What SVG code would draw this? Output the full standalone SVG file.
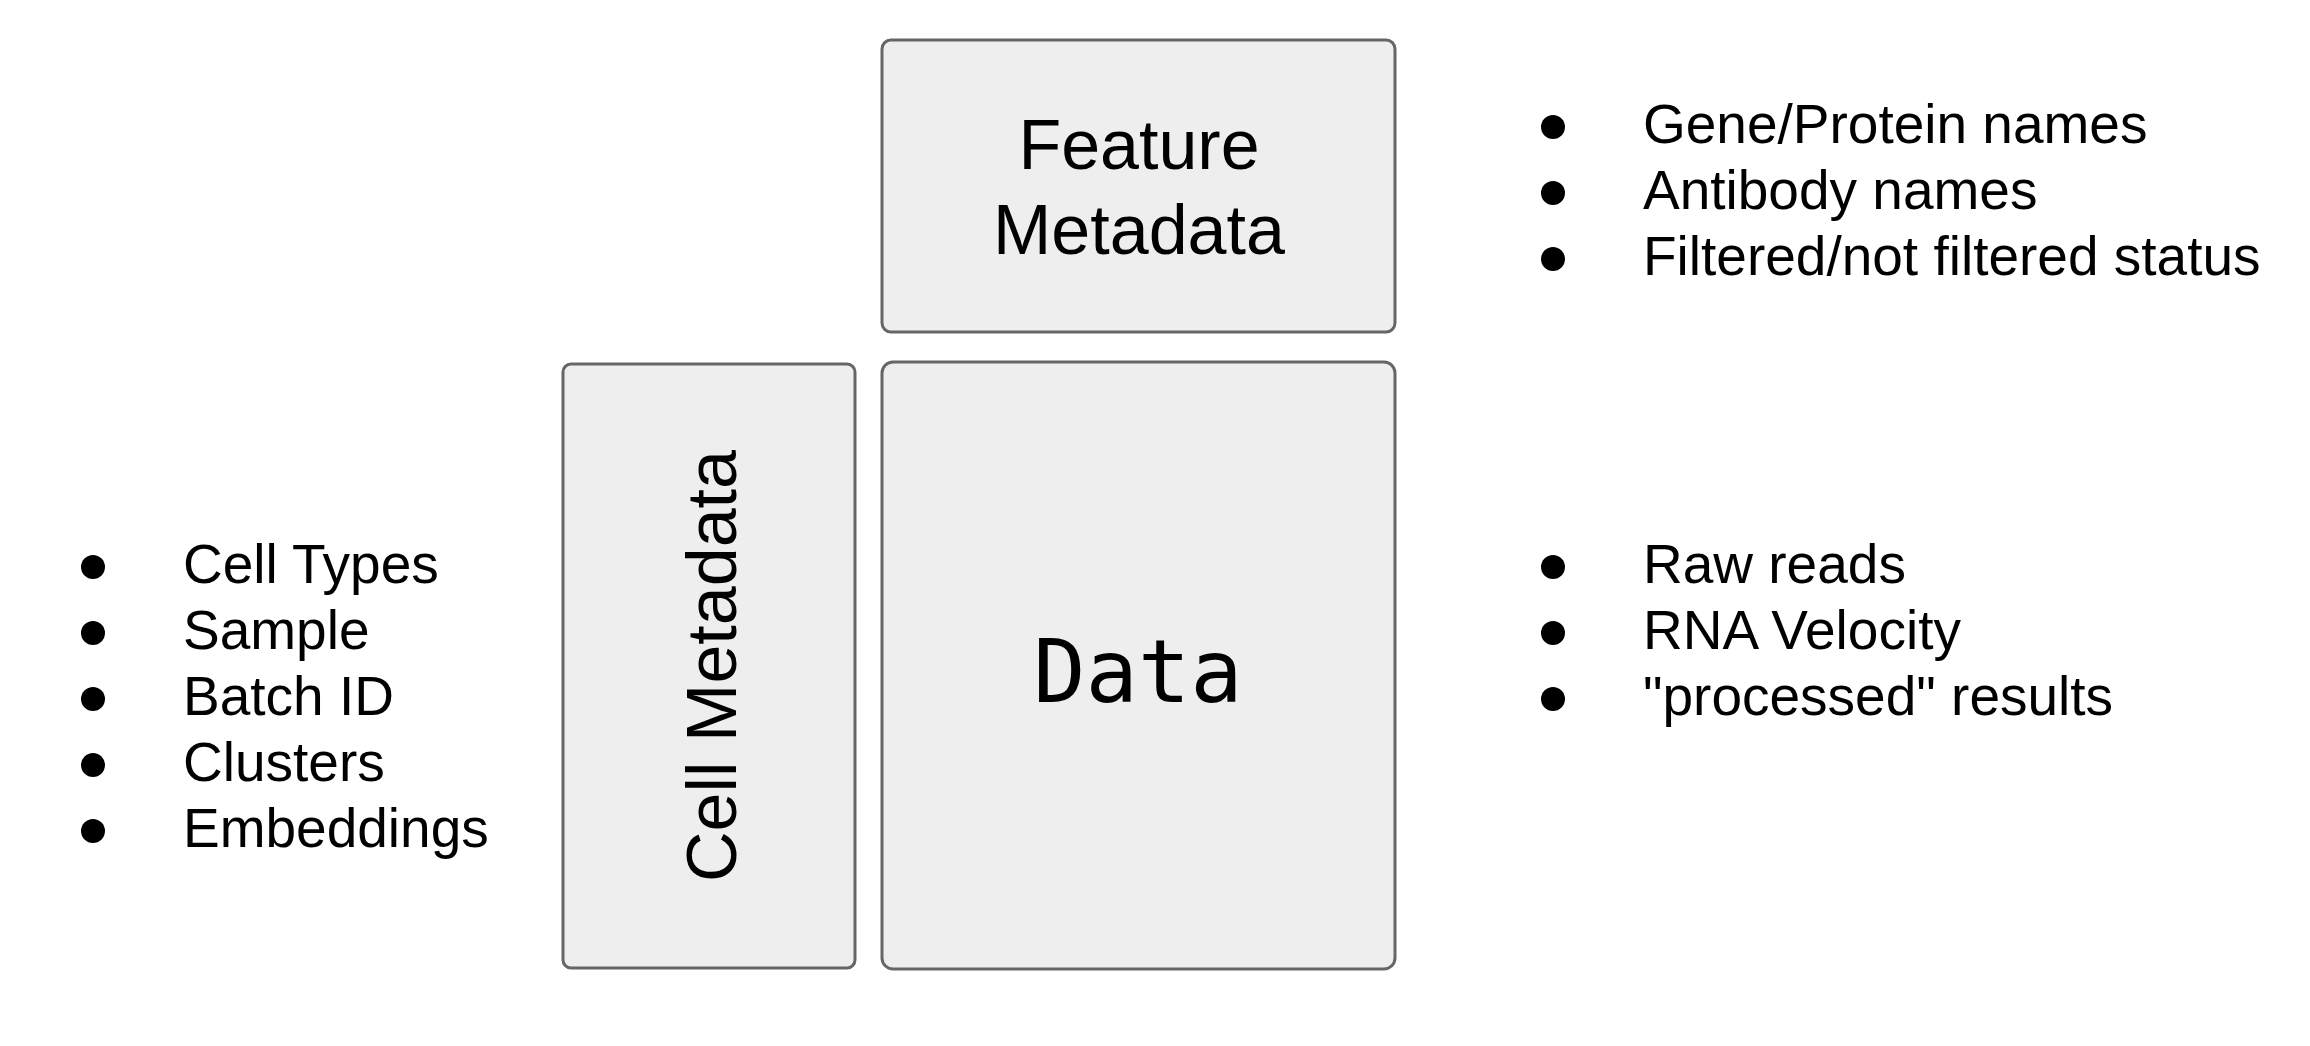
<svg xmlns="http://www.w3.org/2000/svg" width="2310" height="1046" viewBox="0 0 2310 1046">
  <style>
    .box { fill: #eeeeee; stroke: #666666; stroke-width: 3; }
    .label { font-family: "Liberation Sans", Arial, sans-serif; font-size: 70px; fill: #000000; text-anchor: middle; }
    .mono { font-family: "DejaVu Sans Mono", "Liberation Mono", monospace; font-size: 87px; fill: #000000; text-anchor: middle; }
    .item { font-family: "Liberation Sans", Arial, sans-serif; font-size: 55px; fill: #000000; }
    .bullet { fill: #000000; }
  </style>
  <rect width="2310" height="1046" fill="#ffffff"/>
  <g id="feature-metadata">
    <rect class="box" x="882" y="40" width="513" height="292" rx="9"/>
    <text class="label" x="1139" y="169">Feature</text>
    <text class="label" x="1139" y="254">Metadata</text>
  </g>
  <g id="cell-metadata">
    <rect class="box" x="563" y="364" width="292" height="604" rx="8"/>
    <text class="label" transform="translate(736,666) rotate(-90)">Cell Metadata</text>
  </g>
  <g id="data">
    <rect class="box" x="882" y="362" width="513" height="607" rx="11"/>
    <text class="mono" x="1138" y="702">Data</text>
  </g>
  <g id="cell-metadata-list">
    <circle class="bullet" cx="93" cy="567" r="12"/>
    <circle class="bullet" cx="93" cy="633" r="12"/>
    <circle class="bullet" cx="93" cy="699" r="12"/>
    <circle class="bullet" cx="93" cy="765" r="12"/>
    <circle class="bullet" cx="93" cy="831" r="12"/>
    <text class="item" x="183" y="583">Cell Types</text>
    <text class="item" x="183" y="649">Sample</text>
    <text class="item" x="183" y="715">Batch ID</text>
    <text class="item" x="183" y="781">Clusters</text>
    <text class="item" x="183" y="847">Embeddings</text>
  </g>
  <g id="feature-metadata-list">
    <circle class="bullet" cx="1553" cy="127" r="12"/>
    <circle class="bullet" cx="1553" cy="193" r="12"/>
    <circle class="bullet" cx="1553" cy="259" r="12"/>
    <text class="item" x="1643" y="143">Gene/Protein names</text>
    <text class="item" x="1643" y="209">Antibody names</text>
    <text class="item" x="1643" y="275">Filtered/not filtered status</text>
  </g>
  <g id="data-list">
    <circle class="bullet" cx="1553" cy="567" r="12"/>
    <circle class="bullet" cx="1553" cy="633" r="12"/>
    <circle class="bullet" cx="1553" cy="699" r="12"/>
    <text class="item" x="1643" y="583">Raw reads</text>
    <text class="item" x="1643" y="649">RNA Velocity</text>
    <text class="item" x="1643" y="715">"processed" results</text>
  </g>
  <g id="connectors"></g>
</svg>
